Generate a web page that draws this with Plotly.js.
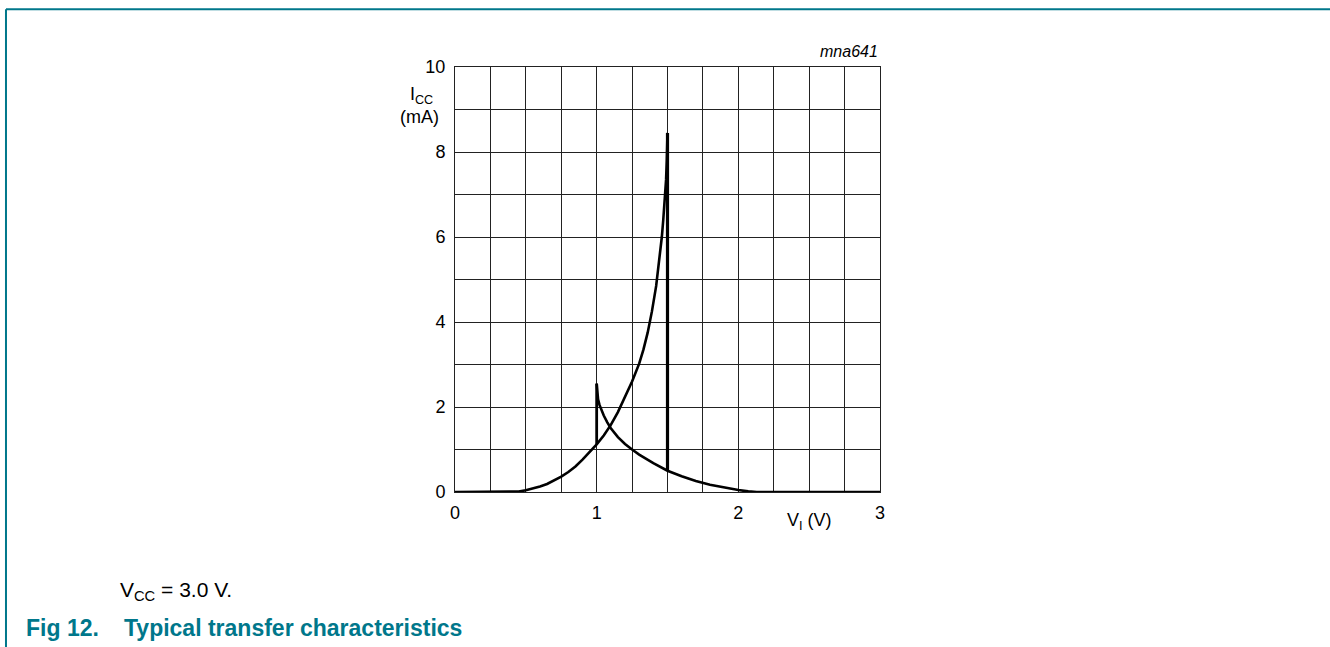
<!DOCTYPE html>
<html><head><meta charset="utf-8">
<script src="https://cdn.plot.ly/plotly-3.0.1.min.js"></script>
<style>html,body{margin:0;padding:0;background:#fff;}#chart{width:1330px;height:647px;}</style>
</head><body><div id="chart"></div>
<script>
// Rising branch (input sweep up)
const riseX = [0, 0.2, 0.4, 0.45, 0.5, 0.55, 0.6, 0.65, 0.7, 0.75, 0.8, 0.85, 0.9, 0.95, 1.0, 1.05, 1.1, 1.15, 1.2, 1.25, 1.3, 1.33, 1.36, 1.39, 1.42, 1.44, 1.46, 1.47, 1.48, 1.49, 1.495, 1.5];
const riseY = [0, 0, 0, 0.01, 0.04, 0.08, 0.13, 0.19, 0.27, 0.36, 0.47, 0.6, 0.76, 0.93, 1.12, 1.33, 1.58, 1.88, 2.22, 2.6, 3.02, 3.35, 3.75, 4.25, 4.85, 5.4, 6.0, 6.4, 6.85, 7.35, 7.8, 8.45];
// Falling branch
const fallX = [1.0, 1.003, 1.01, 1.02, 1.035, 1.05, 1.075, 1.1, 1.15, 1.2, 1.25, 1.3, 1.4, 1.5, 1.6, 1.7, 1.8, 1.9, 2.0, 2.07, 2.13, 3.0];
const fallY = [2.55, 2.35, 2.18, 2.05, 1.92, 1.8, 1.64, 1.5, 1.29, 1.13, 1.0, 0.88, 0.68, 0.5, 0.37, 0.26, 0.17, 0.1, 0.045, 0.015, 0, 0];
// Vertical switching jumps
const jump1X = [1.0, 1.0];
const jump1Y = [1.12, 2.55];
const jump2X = [1.5, 1.5];
const jump2Y = [0.5, 8.45];

const xTickVals = [0,0.25,0.5,0.75,1,1.25,1.5,1.75,2,2.25,2.5,2.75,3];
const xTickText = ["0","","","","1","","","","2","","","","3"];
const yTickVals = [0,1,2,3,4,5,6,7,8,9,10];
const yTickText = ["0","","2","","4","","6","","8","","10"];

const teal = "#00778b";
const font = "Liberation Sans, Arial, sans-serif";

const lineStyle = {color:"#000", width:2.6, shape:"linear"};
const traces = [
  {x: riseX, y: riseY, mode:"lines", line: lineStyle, hoverinfo:"skip"},
  {x: fallX, y: fallY, mode:"lines", line: lineStyle, hoverinfo:"skip"},
  {x: jump1X, y: jump1Y, mode:"lines", line: {color:"#000", width:2.8}, hoverinfo:"skip"},
  {x: jump2X, y: jump2Y, mode:"lines", line: {color:"#000", width:3.2}, hoverinfo:"skip"}
];

const layout = {
  width:1330, height:647,
  margin:{l:455, r:450, t:67, b:155, pad:0},
  paper_bgcolor:"#fff", plot_bgcolor:"#fff",
  showlegend:false,
  font:{family:font, size:18, color:"#000"},
  xaxis:{range:[0,3], tickvals:xTickVals, ticktext:xTickText, showgrid:true, gridcolor:"#222", gridwidth:1,
         zeroline:false, showline:true, linecolor:"#222", linewidth:1, mirror:true, ticks:"", ticklabelstandoff:4,
         tickfont:{family:font, size:18, color:"#000"}, fixedrange:true},
  yaxis:{range:[0,10], tickvals:yTickVals, ticktext:yTickText, showgrid:true, gridcolor:"#222", gridwidth:1,
         zeroline:false, showline:true, linecolor:"#222", linewidth:1, mirror:true, ticks:"", ticklabelstandoff:5,
         tickfont:{family:font, size:18, color:"#000"}, fixedrange:true},
  annotations:[
    {xref:"paper", yref:"paper", x:1, y:1, xanchor:"right", yanchor:"bottom", yshift:5, showarrow:false,
     text:"<i>mna641</i>", font:{family:font, size:16, color:"#000"}},
    {xref:"x", yref:"paper", x:0, y:0.933, xanchor:"right", yanchor:"middle", xshift:-20, showarrow:false,
     text:"I<sub>CC</sub>", font:{family:font, size:18}},
    {xref:"x", yref:"paper", x:0, y:0.882, xanchor:"right", yanchor:"middle", xshift:-14, showarrow:false,
     text:"(mA)", font:{family:font, size:18}},
    {xref:"x", yref:"paper", x:2.5, y:0, xanchor:"center", yanchor:"top", yshift:-16, showarrow:false,
     text:"V<sub>I</sub> (V)", font:{family:font, size:18}},
    {xref:"paper", yref:"paper", x:-0.7925, y:-0.233, xanchor:"left", yanchor:"middle", showarrow:false,
     text:"V<sub>CC</sub> = 3.0 V.", font:{family:font, size:21, color:"#000"}},
    {xref:"paper", yref:"paper", x:-1.0141, y:-0.32, xanchor:"left", yanchor:"middle", showarrow:false,
     text:"<b>Fig 12.</b>", font:{family:font, size:23, color:teal}},
    {xref:"paper", yref:"paper", x:-0.7835, y:-0.32, xanchor:"left", yanchor:"middle", showarrow:false,
     text:"<b>Typical transfer characteristics</b>", font:{family:font, size:23, color:teal}}
  ],
  shapes:[
    {type:"line", xref:"paper", yref:"paper", x0:-1.0565, x1:2.0706, y0:1.136, y1:1.136, line:{color:teal, width:2}},
    {type:"line", xref:"paper", yref:"paper", x0:-1.0565, x1:-1.0565, y0:1.136, y1:-0.365, line:{color:teal, width:2}},
    {type:"line", xref:"paper", yref:"paper", x0:2.0706, x1:2.0706, y0:1.136, y1:-0.365, line:{color:teal, width:2}}
  ]
};

Plotly.newPlot("chart", traces, layout, {displayModeBar:false, staticPlot:true});
</script>
</body></html>
